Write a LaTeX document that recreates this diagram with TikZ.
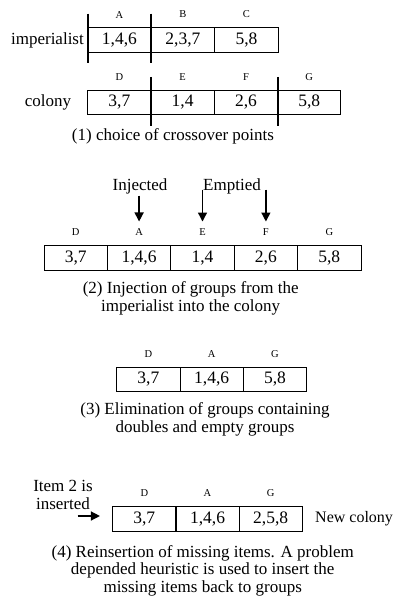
\documentclass[tikz,border=0pt]{standalone}
\usepackage{fontspec}
\setmainfont{Liberation Serif}
\usetikzlibrary{calc,positioning,arrows.meta}

\tikzset{
  cell/.style={draw, line width=0.9pt, minimum width=63.3pt, minimum height=24.5pt,
    inner sep=0pt, outer sep=0pt, font=\fontsize{17.5}{17.5}\selectfont},
  grp/.style={font=\fontsize{10.5}{10.5}\selectfont, inner sep=0pt},
  txt/.style={font=\fontsize{17}{17.7}\selectfont, inner sep=0pt, align=center},
  cut/.style={line width=2.2pt},
  arr/.style={line width=1.3pt, -{Triangle[length=9pt,width=9pt]}}
}

\begin{document}
\begin{tikzpicture}[x=1pt,y=-1pt]
\useasboundingbox (0,0) rectangle (395,603);

% (1) imperialist and colony
\foreach \t/\l [count=\i] in {{1,4,6}/A,{2,3,7}/B,{5,8}/C}
  \node[cell] (imp\i) at ({87.7+63.5*(\i-0.5)},39.8) {\t}
    node[grp] at ($(imp\i.north)+(0,13pt)$) {\l};
\node[txt, anchor=east] (impname) at (84,40) {imperialist};
\foreach \i in {1,2}
  \draw[cut] ($(imp\i.north west)+(0,14pt)$) -- ($(imp\i.south west)+(0,-11pt)$);

\foreach \t/\l [count=\i] in {{3,7}/D,{1,4}/E,{2,6}/F,{5,8}/G}
  \node[cell] (col\i) at ({87.7+63.3*(\i-0.5)},102.5) {\t}
    node[grp] at ($(col\i.north)+(0,13pt)$) {\l};
\node[txt] (colname) at (48,102) {colony};
\foreach \i in {2,4}
  \draw[cut] ($(col\i.north west)+(0,13.3pt)$) -- ($(col\i.south west)+(0,-11.7pt)$);

\node[txt] (cap1) at (173,136) {(1) choice of crossover points};

% (2) injection
\foreach \t/\l [count=\i] in {{3,7}/D,{1,4,6}/A,{1,4}/E,{2,6}/F,{5,8}/G}{
  \node[cell] (inj\i) at ({44+63.4*(\i-0.5)},257.9) {\t};
  \node[grp] (ltr\i) at ($(inj\i.north)+(0,13.5pt)$) {\l};
}
\node[txt] (injected) at (140,186.7) {Injected};
\node[txt] (emptied) at (232,186.7) {Emptied};
\draw[arr, shorten >=7pt] (injected.south -| ltr2.north) ++(0,-1pt) -- (ltr2.north);
\draw[arr, shorten >=7pt] (emptied.south -| ltr3.north) ++(0,5pt) -- (ltr3.north);
\draw[arr, shorten >=7pt] (emptied.south -| ltr4.north) ++(0,5pt) -- (ltr4.north);

\node[txt] (cap2) at (190.7,298) {(2) Injection of groups from the\\imperialist into the colony};

% (3) elimination
\foreach \t/\l [count=\i] in {{3,7}/D,{1,4,6}/A,{5,8}/G}
  \node[cell] (elm\i) at ({116.7+63.3*(\i-0.5)},379.5) {\t}
    node[grp] at ($(elm\i.north)+(0,13.5pt)$) {\l};

\node[txt] (cap3) at (205,419) {(3) Elimination of groups containing\\doubles and empty groups};

% (4) reinsertion
\foreach \t/\l [count=\i] in {{3,7}/D,{1,4,6}/A,{2,5,8}/G}
  \node[cell] (new\i) at ({112.7+63.2*(\i-0.5)},518.8) {\t}
    node[grp] at ($(new\i.north)+(0,13.5pt)$) {\l};
\node[txt] (item) at (63,495) {Item 2 is\\inserted};
\coordinate (insfrom) at (77.7,516);
\draw[arr, shorten >=12.7pt] (insfrom) -- (insfrom -| new1.west);
\node[txt, font=\fontsize{16}{17}\selectfont, anchor=west] (newname) at (315,519) {New colony};

\node[txt] (cap4) at (202.7,570.8) {(4) Reinsertion of missing items. A problem\\depended heuristic is used to insert the\\missing items back to groups};
\end{tikzpicture}
\end{document}
